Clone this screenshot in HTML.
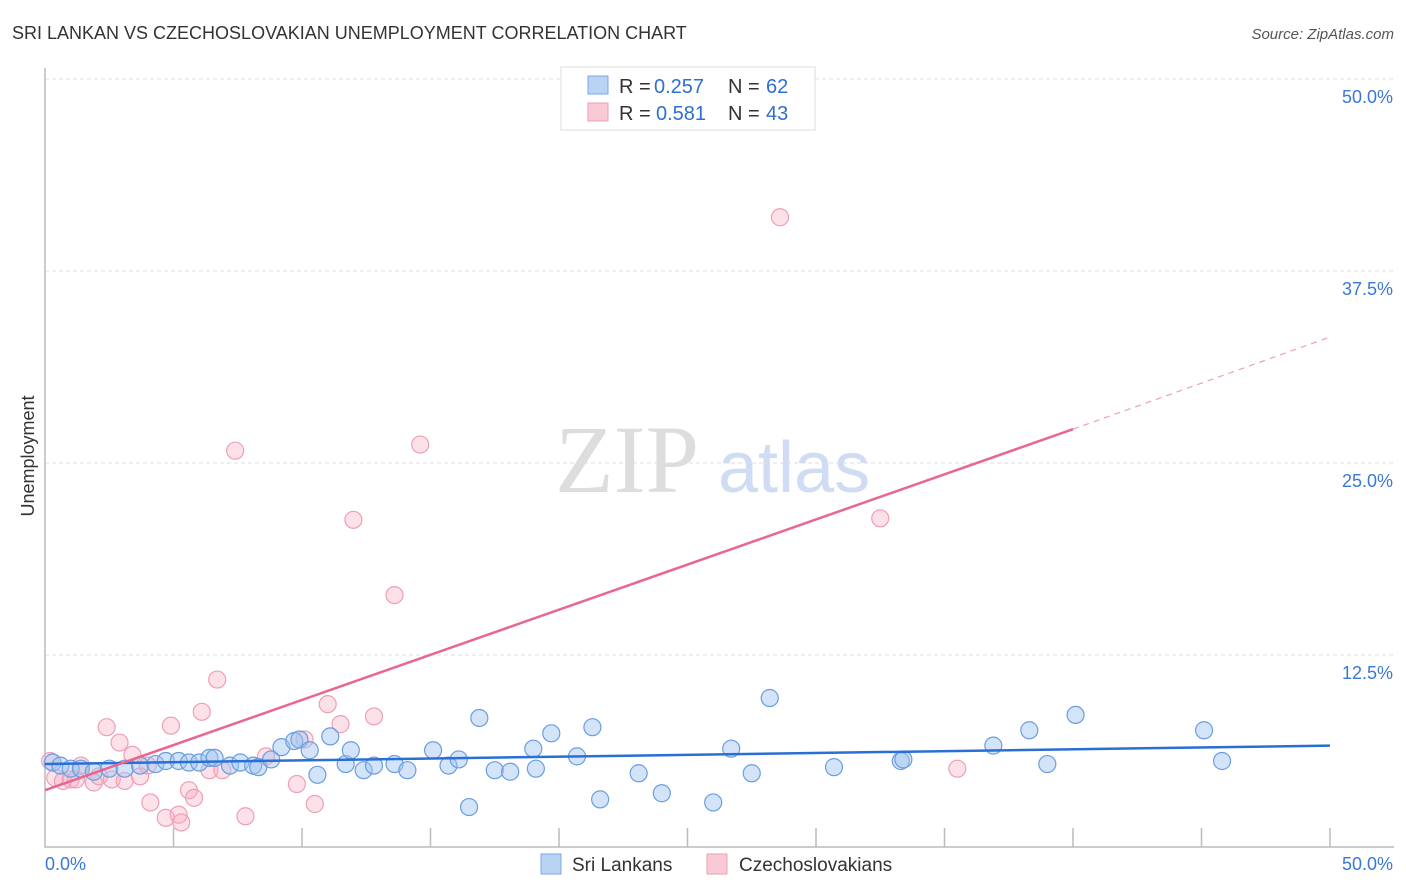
<!DOCTYPE html>
<html><head><meta charset="utf-8"><style>
body{margin:0;background:#fff;font-family:"Liberation Sans",sans-serif;}
svg{display:block}
</style></head><body>
<svg width="1406" height="892" xmlns="http://www.w3.org/2000/svg">
<text x="12" y="39" font-size="18" fill="#333">SRI LANKAN VS CZECHOSLOVAKIAN UNEMPLOYMENT CORRELATION CHART</text>
<text x="1394" y="39" font-size="15" fill="#555" font-style="italic" text-anchor="end">Source: ZipAtlas.com</text>
<text x="555" y="492" font-size="96" fill="#ddd" font-family="Liberation Serif">ZIP</text>
<text x="718" y="492" font-size="72" fill="#cfdcf3">atlas</text>
<g id="grid"></g>
<g id="axes"></g>
<g id="marks"></g>
<text transform="translate(34,456) rotate(-90)" font-size="18" fill="#333" text-anchor="middle">Unemployment</text>
<g>
<rect x="561" y="67" width="254" height="63" fill="#fff" stroke="#ddd"/>
<rect x="588" y="76" width="20" height="18" fill="#b9d3f5" stroke="#7aa7e6"/>
<rect x="588" y="103" width="20" height="18" fill="#f9c9d6" stroke="#ee9fb6"/>
<g font-size="20">
<text x="619" y="93" fill="#333">R =</text><text x="654" y="93" fill="#2f6fd0">0.257</text>
<text x="728" y="93" fill="#333">N =</text><text x="766" y="93" fill="#2f6fd0">62</text></g>
<g font-size="20">
<text x="619" y="120" fill="#333">R =</text><text x="656" y="120" fill="#2f6fd0">0.581</text>
<text x="728" y="120" fill="#333">N =</text><text x="766" y="120" fill="#2f6fd0">43</text></g>
</g>
<g>
<rect x="541" y="854" width="20" height="20" fill="#b9d3f5" stroke="#7aa7e6"/>
<text x="572" y="871" font-size="19" fill="#333">Sri Lankans</text>
<rect x="707" y="854" width="20" height="20" fill="#f9c9d6" stroke="#ee9fb6"/>
<text x="739" y="871" font-size="19" fill="#333">Czechoslovakians</text>
</g>
</svg>
<script>
const yTicks=[12.5,25,37.5,50];
const yTickLabels=["12.5%","25.0%","37.5%","50.0%"];
const xTickLabels=["0.0%","50.0%"];
const blueX=[0.3,0.6,1,1.4,1.9,2.5,3.1,3.7,4.3,4.7,5.2,5.6,6,6.4,6.6,7.2,7.6,8.1,8.3,8.8,9.2,9.7,9.9,10.3,10.6,11.1,11.7,11.9,12.4,12.8,13.6,14.1,15.1,15.7,16.1,16.5,16.9,17.5,18.1,19.1,19.7,19.0,20.7,21.3,21.6,23.1,24.0,26.0,26.7,27.5,28.2,30.7,33.3,33.4,36.9,38.3,39,40.1,45.1,45.8];
const blueY=[5.5,5.3,5.1,5.1,4.9,5.1,5.1,5.3,5.4,5.6,5.6,5.5,5.5,5.8,5.8,5.3,5.5,5.3,5.2,5.7,6.5,6.9,7.0,6.3,4.7,7.2,5.4,6.3,5.0,5.3,5.4,5.0,6.3,5.3,5.7,2.6,8.4,5.0,4.9,5.1,7.4,6.4,5.9,7.8,3.1,4.8,3.5,2.9,6.4,4.8,9.7,5.2,5.6,5.7,6.6,7.6,5.4,8.6,7.6,5.6];
const pinkX=[0.2,0.4,0.7,1,1.2,1.4,1.9,2.1,2.4,2.6,2.9,3.1,3.4,3.7,4,4.1,4.7,4.9,5.2,5.3,5.6,5.8,6.1,6.4,6.7,6.9,7.4,7.8,8.6,9.8,10.1,10.5,11,11.5,12,12.8,13.6,14.6,28.6,32.5,35.5];
const pinkY=[5.6,4.5,4.3,4.4,4.4,5.3,4.2,4.6,7.8,4.4,6.8,4.3,6,4.6,5.3,2.9,1.9,7.9,2.1,1.6,3.7,3.2,8.8,5,10.9,5,25.8,2,5.9,4.1,7,2.8,9.3,8,21.3,8.5,16.4,26.2,41,21.4,5.1];
const blueLine=[[0,5.4],[50,6.6]];
const pinkLine=[[0,3.7],[40,27.2]];
const pinkDash=[[40,27.2],[50,33.2]];
const X=v=>45+v*25.7, Y=v=>847-v*15.36;
const NS="http://www.w3.org/2000/svg";
function mk(t,a,p){const e=document.createElementNS(NS,t);for(const k in a)e.setAttribute(k,a[k]);p.appendChild(e);return e;}
const grid=document.getElementById('grid'),axes=document.getElementById('axes'),marks=document.getElementById('marks');
yTicks.forEach((t,i)=>{
 const l=mk('line',{x1:45,x2:1394,y1:Y(t),y2:Y(t),stroke:'#ddd','stroke-dasharray':'4,3'},grid);
 
 
 const tx=mk('text',{x:1393,y:Y(t)+24,'font-size':18,fill:'#3a78d4','text-anchor':'end'},axes);
 tx.textContent=yTickLabels[i];
 
 
});
const ax=mk('path',{d:`M45,68 V${Y(0)} H1394`,fill:'none',stroke:'#bbb','stroke-width':1.5},axes);


for(let i=1;i<=10;i++){
 const t=mk('line',{x1:X(i*5),x2:X(i*5),y1:Y(0),y2:Y(0)-19,stroke:'#bbb','stroke-width':1.5},axes);
 
 
}
[[0,'start',45],[50,'end',1393]].forEach((d,i)=>{
 const tx=mk('text',{x:d[2],y:870,'font-size':18,fill:'#3a78d4','text-anchor':d[1]},axes);
 tx.textContent=xTickLabels[i];
 
 
});
pinkX.forEach((v,i)=>{
 const c=mk('circle',{cx:X(v),cy:Y(pinkY[i]),r:8.5,fill:'rgba(246,170,192,0.35)',stroke:'#ee9fb6','stroke-width':1.2},marks);
 
 
});
blueX.forEach((v,i)=>{
 const c=mk('circle',{cx:X(v),cy:Y(blueY[i]),r:8.5,fill:'rgba(160,196,240,0.45)',stroke:'#6a9de0','stroke-width':1.2},marks);
 
 
});
const bl=mk('line',{x1:X(blueLine[0][0]),y1:Y(blueLine[0][1]),x2:X(blueLine[1][0]),y2:Y(blueLine[1][1]),stroke:'#2a6fd6','stroke-width':2.5},marks);


const pl=mk('line',{x1:X(pinkLine[0][0]),y1:Y(pinkLine[0][1]),x2:X(pinkLine[1][0]),y2:Y(pinkLine[1][1]),stroke:'#e8668f','stroke-width':2.5},marks);


const pd=mk('line',{x1:X(pinkDash[0][0]),y1:Y(pinkDash[0][1]),x2:X(pinkDash[1][0]),y2:Y(pinkDash[1][1]),stroke:'#eda0b6','stroke-width':1.2,'stroke-dasharray':'6,5'},marks);


</script>
</body></html>
